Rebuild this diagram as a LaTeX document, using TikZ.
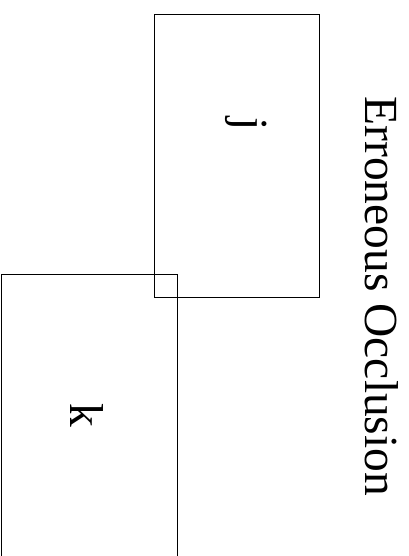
\documentclass[tikz,border=0pt]{standalone}
\usepackage{fontspec}
\setmainfont{Liberation Serif}
\usepackage{tikz}

\begin{document}
\begin{tikzpicture}[x=1pt, y=-1pt, line width=0.9pt,
  lbl/.style={rotate=-90, font=\fontsize{47.5}{52}\selectfont, inner sep=0pt}]

\useasboundingbox (0,0) rectangle (408,556);

% Frame j
\draw (154,14.5) rectangle (319.5,297.5);
\node[lbl, anchor=base] (jlabel) at (235.5,124) {j};

% Frame k
\draw (1,274) rectangle (177.5,562);
\node[lbl, anchor=base] (klabel) at (70.5,415) {k};

% Title
\node[lbl, anchor=base west] (title) at (365,96) {Erroneous Occlusion};

\end{tikzpicture}
\end{document}
